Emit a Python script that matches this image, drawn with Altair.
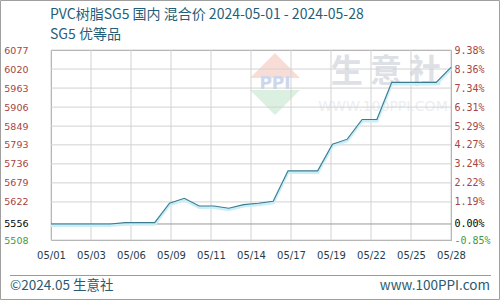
import json
import altair as alt
import pandas as pd

# ---- data ----
dates = ["05/01", "05/02", "05/03", "05/04", "05/05", "05/06", "05/07", "05/08",
         "05/09", "05/10", "05/11", "05/12", "05/13", "05/14", "05/15", "05/16",
         "05/17", "05/18", "05/19", "05/20", "05/21", "05/22", "05/23", "05/24",
         "05/25", "05/26", "05/27", "05/28"]
prices = [5556, 5556, 5556, 5556, 5556, 5560, 5560, 5560,
          5618, 5633, 5610, 5610, 5603, 5614, 5618, 5624,
          5715, 5715, 5715, 5795, 5810, 5869, 5869, 5980,
          5980, 5980, 5980, 6025]

# x positions in tenths of a day (0 = 05/01, 270 = 05/28)
x_tick_pos = [0, 27, 54, 81, 108, 135, 162, 189, 216, 243, 270]
x_tick_labels = ["05/01", "05/03", "05/06", "05/09", "05/11", "05/14",
                 "05/17", "05/19", "05/22", "05/25", "05/28"]

y_ticks = [6077, 6020, 5963, 5906, 5849, 5793, 5736, 5679, 5622, 5556, 5508]
y_left_labels = ["6077", "6020", "5963", "5906", "5849", "5793", "5736", "5679", "5622", "5556", "5508"]
y_right_labels = ["9.38%", "8.36%", "7.34%", "6.31%", "5.29%", "4.27%", "3.24%", "2.22%", "1.19%", "0.00%", "-0.85%"]
base_price = 5556

title_text = "PVC树脂SG5 国内 混合价 2024-05-01 - 2024-05-28"
subtitle_text = "SG5 优等品"
footer_left = "©2024.05 生意社"
footer_right = "www.100PPI.com"

df = pd.DataFrame({"t": [i * 10 for i in range(len(dates))], "date": dates, "price": prices})
hrule_df = pd.DataFrame({"t": [0] * len(y_ticks), "price": y_ticks})
vrule_df = pd.DataFrame({"t": x_tick_pos, "price": [base_price] * len(x_tick_pos)})

YDOM = [5508, 6077]
XDOM = [0, 270]

def lookup_expr(vals, labels):
    return "%s[indexof(%s, datum.value)]" % (json.dumps(labels, ensure_ascii=False), json.dumps(vals))

label_color = {
    "condition": [
        {"test": "datum.value > %d" % base_price, "value": "#a84444"},
        {"test": "datum.value < %d" % base_price, "value": "#3f9a3f"},
    ],
    "value": "#000000",
}

xscale = alt.Scale(domain=XDOM, nice=False, zero=False)
yscale = alt.Scale(domain=YDOM, nice=False, zero=False)

x_axis = alt.Axis(values=x_tick_pos, labelExpr=lookup_expr(x_tick_pos, x_tick_labels),
                  grid=False, domain=False, ticks=False,
                  labelPadding=10, labelFont="DejaVu Sans", labelFontSize=10, labelColor="#1e3e4e",
                  title=None, labelFlush=False)

y_axis_left = alt.Axis(values=y_ticks, labelExpr=lookup_expr(y_ticks, y_left_labels),
                       grid=False, domain=False, ticks=False,
                       labelPadding=23, labelFont="DejaVu Sans", labelFontSize=9.5,
                       labelColor=label_color, title=None, labelFlush=False, orient="left")

y_axis_right = alt.Axis(values=y_ticks, labelExpr=lookup_expr(y_ticks, y_right_labels),
                        grid=False, domain=False, ticks=False, labelAlign="left",
                        labelPadding=3, labelFont="DejaVu Sans Mono", labelFontSize=10,
                        labelColor=label_color, title=None, labelFlush=False, orient="right")

X = alt.X("t:Q", scale=xscale, axis=x_axis)
YL = alt.Y("price:Q", scale=yscale, axis=y_axis_left)
YR = alt.Y("price:Q", scale=yscale, axis=y_axis_right)

one = alt.Data(values=[{}])

# watermark
wm_top = alt.Chart(one).mark_point(shape="M-1,0L0,-1L1,0Z", filled=True, size=2500,
                                   color="#f8ddd7", opacity=1).encode(
    x=alt.value(224), y=alt.value(28))
wm_bot = alt.Chart(one).mark_point(shape="M-1,0L0,1L1,0Z", filled=True, size=2500,
                                   color="#dcf0e1", opacity=1).encode(
    x=alt.value(224), y=alt.value(40))
wm_ppi = alt.Chart(one).mark_text(font="DejaVu Sans", fontSize=17, fontWeight="bold",
                                  color="#cdd7ec").encode(
    x=alt.value(224), y=alt.value(34), text=alt.value("PPI"))
wm_chars = alt.Chart(one).mark_text(font="Noto Sans CJK SC", fontSize=32, color="#dde0e5",
                                    fontWeight="bold").encode(
    x=alt.value(335), y=alt.value(22), text=alt.value("生 意 社"))
wm_url = alt.Chart(one).mark_text(font="DejaVu Sans", fontSize=14, color="#eceef1").encode(
    x=alt.value(332), y=alt.value(57), text=alt.value("WWW.100PPI.COM"))

base = alt.Chart(df)

grid_layer = base.mark_line(opacity=0).encode(x=X, y=YL)
right_layer = base.mark_line(opacity=0).encode(x=X, y=YR)

vrules = alt.Chart(vrule_df).mark_rule(color="#d2d2d2", strokeWidth=1).encode(x=X)

hrules = alt.Chart(hrule_df).mark_rule(strokeWidth=1).encode(
    y=YL,
    color=alt.condition("datum.price == %d" % base_price, alt.value("#9a9a9a"), alt.value("#d2d2d2")),
)

glow = base.mark_line(color="#c9eef8", strokeWidth=3, yOffset=1.5).encode(x=X, y=YL)
line = base.mark_line(color="#3d7b8e", strokeWidth=1.1).encode(x=X, y=YL)

title = alt.Chart(one).mark_text(font="Noto Sans CJK SC", fontSize=14, color="#1f5f7a",
                                 align="left", baseline="middle").encode(
    x=alt.value(-1), y=alt.value(-35), text=alt.value(title_text))
subtitle = alt.Chart(one).mark_text(font="Noto Sans CJK SC", fontSize=14, color="#1f5f7a",
                                    align="left", baseline="middle").encode(
    x=alt.value(-1), y=alt.value(-15), text=alt.value(subtitle_text))
foot_l = alt.Chart(one).mark_text(font="Noto Sans CJK SC", fontSize=13.5, color="#2a5a70",
                                  align="left", baseline="middle").encode(
    x=alt.value(-41), y=alt.value(236), text=alt.value(footer_left))
foot_r = alt.Chart(one).mark_text(font="Noto Sans CJK SC", fontSize=13.5, color="#2a5a70",
                                  align="right", baseline="middle").encode(
    x=alt.value(439), y=alt.value(236), text=alt.value(footer_right))
foot_rule = alt.Chart(one).mark_rule(color="#9a9a9a", strokeWidth=1).encode(
    x=alt.value(-41), x2=alt.value(440), y=alt.value(225.5))
border = alt.Chart(one).mark_rect(fill=None, stroke="#a0a0a0", strokeWidth=1).encode(
    x=alt.value(-50.5), x2=alt.value(448.5), y=alt.value(-49.5), y2=alt.value(249.5))

left_part = alt.layer(wm_top, wm_bot, wm_ppi, wm_chars, wm_url, vrules, grid_layer,
                      hrules, glow, line,
                      title, subtitle, foot_l, foot_r, foot_rule, border)

chart = alt.layer(left_part, right_layer).resolve_scale(y="independent").properties(
    width=400, height=190,
    padding={"left": 51, "top": 50, "right": 49, "bottom": 60},
    autosize=alt.AutoSizeParams(type="none"),
    background="white",
).configure_view(stroke="#9a9a9a", strokeWidth=1)

chart.save("out.html", embed_options={"renderer": "svg", "actions": False})
